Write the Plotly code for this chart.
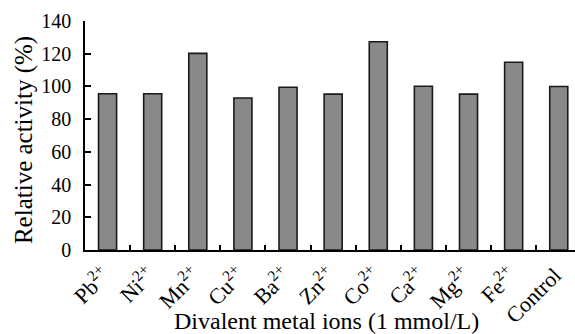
import plotly.graph_objects as go

# Relative enzyme activity in the presence of divalent metal ions (1 mmol/L)
ions = ["Pb<sup>2+</sup>", "Ni<sup>2+</sup>", "Mn<sup>2+</sup>", "Cu<sup>2+</sup>",
        "Ba<sup>2+</sup>", "Zn<sup>2+</sup>", "Co<sup>2+</sup>", "Ca<sup>2+</sup>",
        "Mg<sup>2+</sup>", "Fe<sup>2+</sup>", "Control"]
activity = [95.5, 95.5, 120.2, 92.9, 99.5, 95.3, 127.3, 100.1, 95.3, 114.8, 100.0]
y_ticks = [0, 20, 40, 60, 80, 100, 120, 140]

FONT = "Liberation Serif"

fig = go.Figure()
fig.add_trace(
    go.Bar(
        x=ions,
        y=activity,
        width=0.4,
        marker=dict(color="#898989", line=dict(color="#1a1a1a", width=1.6)),
    )
)

fig.update_layout(
    width=575,
    height=334,
    margin=dict(l=85, r=0, t=21, b=84),
    paper_bgcolor="white",
    plot_bgcolor="white",
    showlegend=False,
    font=dict(family=FONT, color="black"),
)
# category axis: ticks on the boundaries between bars, slanted labels under each bar
fig.update_xaxes(
    type="category",
    range=[-0.5, 10.36],
    tickson="boundaries",
    ticks="inside",
    ticklen=5,
    tickwidth=1.5,
    tickcolor="black",
    tickangle=-45,
    ticklabelstandoff=2,
    ticklabelshift=-4,
    automargin=False,
    tickfont=dict(size=22, family=FONT, color="black"),
    showline=True,
    linecolor="black",
    linewidth=1.5,
    showgrid=False,
)
fig.update_yaxes(
    range=[0, 140],
    tickvals=y_ticks,
    ticks="inside",
    ticklen=6,
    tickwidth=1.5,
    tickcolor="black",
    showline=True,
    linecolor="black",
    linewidth=1.5,
    showgrid=False,
    zeroline=False,
    automargin=False,
    ticklabelstandoff=8,
    tickfont=dict(size=20, family=FONT, color="black"),
)

fig.add_annotation(
    text="Relative activity (%)",
    xref="paper", yref="paper",
    x=-0.1245, y=0.48,
    xanchor="center", yanchor="middle",
    textangle=-90,
    showarrow=False,
    font=dict(size=25, family=FONT, color="black"),
)
fig.add_annotation(
    text="Divalent metal ions (1 mmol/L)",
    xref="paper", yref="paper",
    x=0.493, y=-0.31,
    xanchor="center", yanchor="middle",
    showarrow=False,
    font=dict(size=24, family=FONT, color="black"),
)

fig.write_html("out.html")
